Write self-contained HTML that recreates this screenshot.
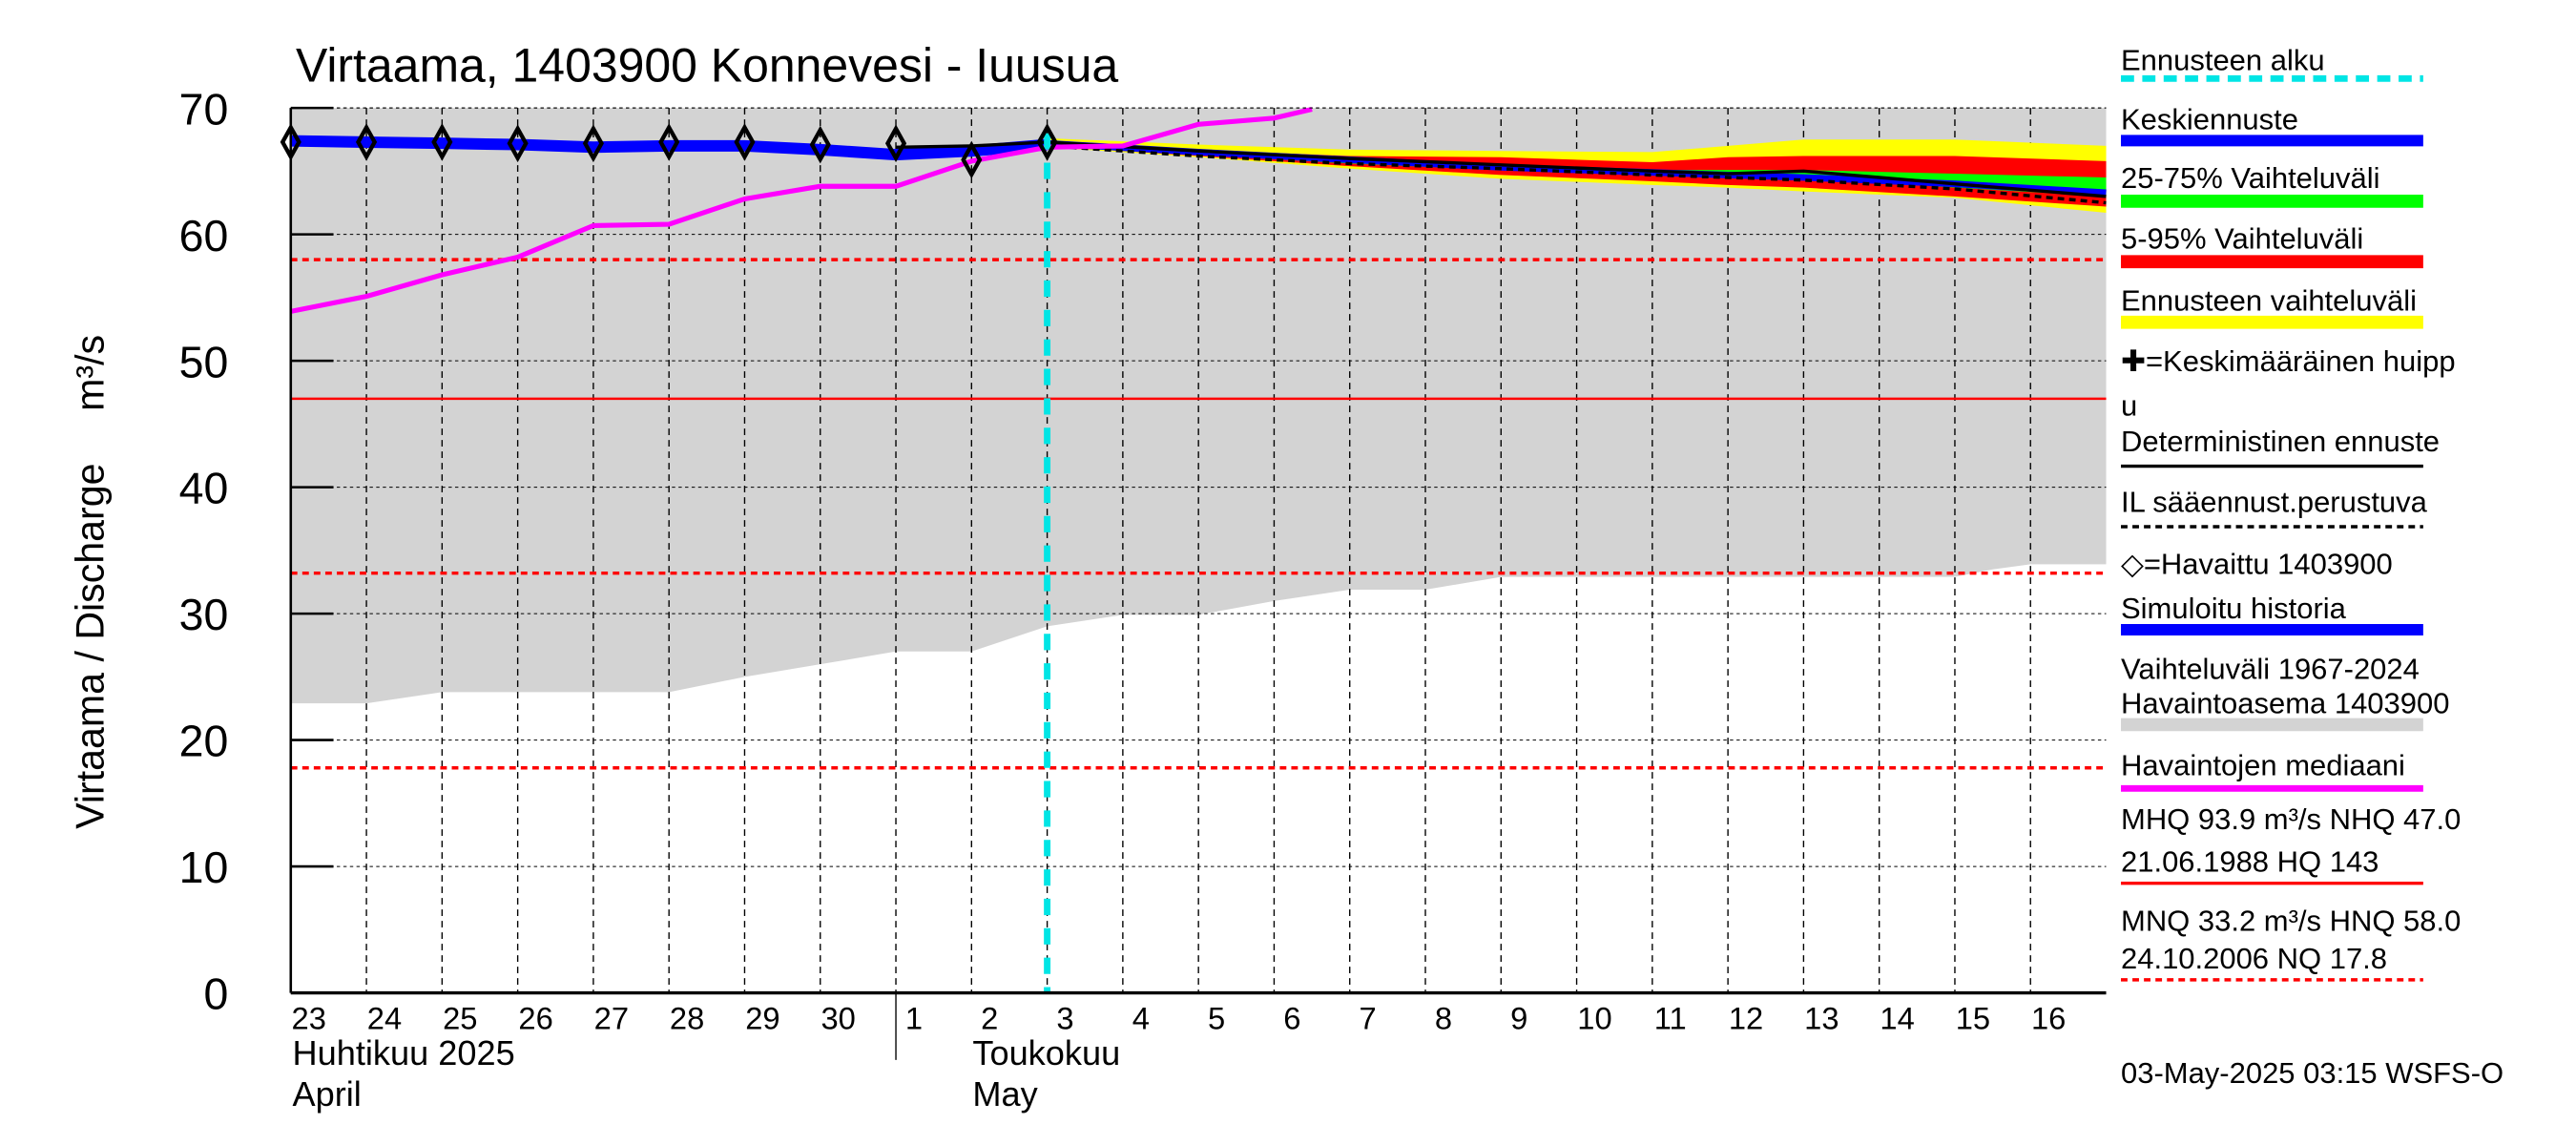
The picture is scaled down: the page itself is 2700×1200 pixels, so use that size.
<!DOCTYPE html>
<html><head><meta charset="utf-8"><style>
html,body{margin:0;padding:0;background:#fff;}
svg{display:block;font-family:"Liberation Sans",sans-serif;}
</style></head><body>
<svg id="chart" width="2700" height="1200" viewBox="0 0 1568 700" preserveAspectRatio="none" xmlns="http://www.w3.org/2000/svg">
<g id="plot"></g>
<text x="180" y="50" font-size="29">Virtaama, 1403900 Konnevesi - Iuusua</text>
<text transform="translate(63,395) rotate(-90)" text-anchor="middle" font-size="24">Virtaama / Discharge</text>
<text transform="translate(63,228) rotate(-90)" text-anchor="middle" font-size="24">m³/s</text>
<g id="legend" font-size="18"></g>
<text x="1291" y="662" font-size="18">03-May-2025 03:15 WSFS-O</text>
</svg>
<script>
// data (t in days from 23 Apr 00:00)
const dayLabels=["23","24","25","26","27","28","29","30","1","2","3","4","5","6","7","8","9","10","11","12","13","14","15","16"];
const yTicks=[0,10,20,30,40,50,60,70];
const obsT=[0,1,2,3,4,5,6,7,8,9,10];
const obsV=[67.3,67.3,67.3,67.2,67.2,67.3,67.3,67.1,67.2,65.9,67.3];
const simT=[0,1,2,3,4,5,6,7,8,9,10];
const simV=[67.4,67.3,67.2,67.1,66.9,67.0,67.0,66.7,66.3,66.6,67.1];
const medT=[0,1,2,3,4,5,6,7,8,9,10,11,12,13,13.5];
const medV=[53.9,55.1,56.8,58.2,60.7,60.8,62.8,63.8,63.8,65.8,66.9,67.0,68.7,69.2,69.9];
const rangeT=[0,1,2,3,4,5,6,7,8,9,10,11,12,13,14,15,16,17,18,19,20,21,22,22.5,23,24];
const rangeLo=[22.9,22.9,23.8,23.8,23.8,23.8,25,26,27,27,29,29.9,29.9,31,31.9,31.9,32.9,32.9,32.9,32.9,32.9,32.9,32.9,33.5,33.9,33.9];
const fT=[10,12,14,16,18,19,20,22,24];
const yelHi=[67.6,67.1,66.7,66.6,66.5,67.0,67.5,67.5,67.0];
const yelLo=[66.9,66.1,65.2,64.4,63.9,63.7,63.4,62.9,61.7];
const redHi=[67.4,66.7,66.2,66.1,65.7,66.1,66.2,66.2,65.8];
const redLo=[67.0,66.2,65.4,64.7,64.2,63.9,63.7,63.0,62.2];
const grnHi=[67.2,66.5,65.9,65.5,65.1,65.1,65.1,64.8,64.5];
const grnLo=[67.1,66.3,65.6,65.1,64.7,64.5,64.4,63.7,63.0];
const bluV=[67.2,66.5,65.9,65.3,64.9,64.7,64.5,64.0,63.3];
const detT=[8,9,10,12,14,16,18,19,20,21,22,24];
const detV=[66.9,67.0,67.3,66.6,66.0,65.5,65.0,64.8,65.0,64.5,64.0,63.0];
const ilV=[67.0,66.2,65.6,65.2,64.7,64.5,64.3,63.6,62.5];
const refSolid=[47.0];
const refDashed=[58.0,33.2,17.8];

const X0=177,X1=1282,Y0=607,Y1=66,NS="http://www.w3.org/2000/svg";
const xs=t=>X0+(X1-X0)*t/24;
const ys=v=>Y0-(Y0-Y1)*v/70;
const plot=document.getElementById('plot');
function el(tag,attrs,parent){const e=document.createElementNS(NS,tag);for(const k in attrs)e.setAttribute(k,attrs[k]);(parent||plot).appendChild(e);return e;}
function pts(T,V){return T.map((t,i)=>xs(t).toFixed(1)+','+ys(V[i]).toFixed(1)).join(' ');}
function band(T,hi,lo){return pts(T,hi)+' '+pts(T.slice().reverse(),lo.slice().reverse());}

let e;
e=el('polygon',{points:xs(0)+','+Y1+' '+xs(24)+','+Y1+' '+pts(rangeT.slice().reverse(),rangeLo.slice().reverse()),fill:'#d3d3d3'});


for(let i=1;i<24;i++){e=el('line',{x1:xs(i),x2:xs(i),y1:Y1,y2:Y0,stroke:'#000','stroke-width':0.8,'stroke-dasharray':'4,3'});

}
yTicks.forEach(v=>{if(v>0){e=el('line',{x1:X0,x2:X1,y1:ys(v),y2:ys(v),stroke:'#000','stroke-width':0.6,'stroke-dasharray':'2,2'});

}
e=el('line',{x1:X0,x2:X0+26,y1:ys(v),y2:ys(v),stroke:'#000','stroke-width':1.5});


e=el('text',{x:X0-38,y:ys(v)+10,'text-anchor':'end','font-size':27});e.textContent=v;

});
refSolid.forEach(v=>{e=el('line',{x1:X0,x2:X1,y1:ys(v),y2:ys(v),stroke:'#f00','stroke-width':1.5});

});
refDashed.forEach(v=>{e=el('line',{x1:X0,x2:X1,y1:ys(v),y2:ys(v),stroke:'#f00','stroke-width':2,'stroke-dasharray':'4,3'});

});
[[yelHi,yelLo,'#ffff00','forecast-range-band'],[redHi,redLo,'#ff0000','band-5-95'],[grnHi,grnLo,'#00ff00','band-25-75']].forEach(b=>{
e=el('polygon',{points:band(fT,b[0],b[1]),fill:b[2]});

});
e=el('polyline',{points:pts(fT,bluV),fill:'none',stroke:'#0000ff','stroke-width':4});


e=el('polyline',{points:pts(simT,simV),fill:'none',stroke:'#0000ff','stroke-width':7});


e=el('polyline',{points:pts(detT,detV),fill:'none',stroke:'#000','stroke-width':2});


e=el('polyline',{points:pts(fT,ilV),fill:'none',stroke:'#000','stroke-width':2,'stroke-dasharray':'4,3'});


e=el('polyline',{points:pts(medT,medV),fill:'none',stroke:'#ff00ff','stroke-width':3});


e=el('line',{x1:xs(10),x2:xs(10),y1:ys(68),y2:Y0,stroke:'#00e5e5','stroke-width':4,'stroke-dasharray':'10,8'});


obsT.forEach((t,i)=>{const x=xs(t),y=ys(obsV[i]);
e=el('polygon',{points:`${x},${y-9} ${x+5},${y} ${x},${y+9} ${x-5},${y}`,fill:'none',stroke:'#000','stroke-width':2.5});

});
e=el('line',{x1:X0,x2:X0,y1:Y1,y2:Y0,stroke:'#000','stroke-width':1.5});


e=el('line',{x1:X0,x2:X1,y1:Y0,y2:Y0,stroke:'#000','stroke-width':2});


e=el('line',{x1:X0,x2:X1,y1:Y1,y2:Y1,stroke:'#000','stroke-width':0.6,'stroke-dasharray':'2,2'});


dayLabels.forEach((d,i)=>{e=el('text',{x:xs(i)+11,y:629,'text-anchor':'middle','font-size':19});e.textContent=d;

});
e=el('line',{x1:xs(8),x2:xs(8),y1:Y0,y2:648,stroke:'#000','stroke-width':0.8});


[["Huhtikuu  2025",178,651],["April",178,676],["Toukokuu",592,651],["May",592,676]].forEach(m=>{
e=el('text',{x:m[1],y:m[2],'font-size':21});e.textContent=m[0];

});
const lg=document.getElementById('legend');
const L=[
 {t:["Ennusteen alku"],ty:[43],ly:48,c:'#00e5e5',w:4,d:'8,5',n:'legend-forecast-start'},
 {t:["Keskiennuste"],ty:[79],ly:86,c:'#0000ff',w:7,n:'legend-median-forecast'},
 {t:["25-75% Vaihteluväli"],ty:[115],ly:123,c:'#00ff00',w:8,n:'legend-25-75'},
 {t:["5-95% Vaihteluväli"],ty:[152],ly:160,c:'#ff0000',w:8,n:'legend-5-95'},
 {t:["Ennusteen vaihteluväli"],ty:[190],ly:197,c:'#ffff00',w:8,n:'legend-forecast-range'},
 {t:["✚=Keskimääräinen huipp","u"],ty:[227,254],c:null,n:'legend-mean-peak'},
 {t:["Deterministinen ennuste"],ty:[276],ly:285,c:'#000',w:2,n:'legend-deterministic'},
 {t:["IL sääennust.perustuva"],ty:[313],ly:322,c:'#000',w:2,d:'4,3',n:'legend-il'},
 {t:["◇=Havaittu 1403900"],ty:[351],c:null,n:'legend-observed'},
 {t:["Simuloitu historia"],ty:[378],ly:385,c:'#0000ff',w:7,n:'legend-simulated'},
 {t:["Vaihteluväli 1967-2024"," Havaintoasema 1403900"],ty:[415,436],ly:443,c:'#d3d3d3',w:8,n:'legend-historical-range'},
 {t:["Havaintojen mediaani"],ty:[474],ly:482,c:'#ff00ff',w:4,n:'legend-median'},
 {t:["MHQ 93.9 m³/s NHQ 47.0","21.06.1988 HQ  143"],ty:[507,533],ly:540,c:'#ff0000',w:2,n:'legend-mhq'},
 {t:["MNQ 33.2 m³/s HNQ 58.0","24.10.2006 NQ 17.8"],ty:[569,592],ly:599,c:'#ff0000',w:2,d:'4,3',n:'legend-mnq'}
];
L.forEach(it=>{const g=document.createElementNS(NS,'g');lg.appendChild(g);


it.t.forEach((s,j)=>{const tx=el('text',{x:1291,y:it.ty[j],'font-size':18},g);tx.setAttribute('xml:space','preserve');tx.textContent=s;});
if(it.c){const a={x1:1291,x2:1475,y1:it.ly,y2:it.ly,stroke:it.c,'stroke-width':it.w};if(it.d)a['stroke-dasharray']=it.d;el('line',a,g);}
});
</script>
</body></html>
